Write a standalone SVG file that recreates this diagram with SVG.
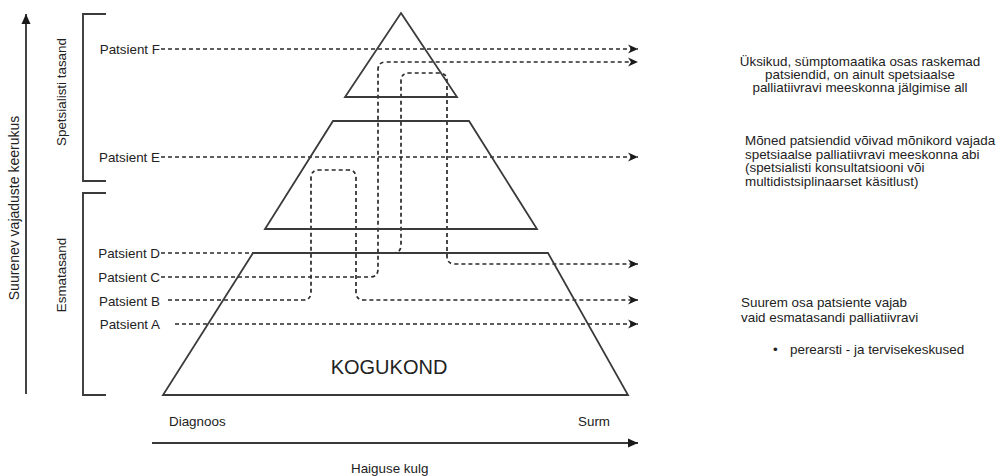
<svg xmlns="http://www.w3.org/2000/svg" width="1000" height="476" viewBox="0 0 1000 476">
  <style>
    text { font-family: "Liberation Sans", Arial, Helvetica, sans-serif; font-size: 13.4px; fill: #222; }
    .shape { fill: none; stroke: #3a3a3a; stroke-width: 1.8; stroke-linejoin: miter; }
    .axis { fill: none; stroke: #3a3a3a; stroke-width: 1.9; }
    .path { fill: none; stroke: #2a2a2a; stroke-width: 1.7; stroke-dasharray: 4 3; }
    .lbl { text-anchor: end; }
  </style>
  <defs>
    <marker id="chev" markerUnits="userSpaceOnUse" markerWidth="12" markerHeight="10" refX="10" refY="5" orient="auto">
      <path d="M0,0.5 L10,5 L0,9.5 L3,5 Z" fill="#1a1a1a"/>
    </marker>
    <marker id="tri" markerUnits="userSpaceOnUse" markerWidth="12" markerHeight="10" refX="10" refY="5" orient="auto">
      <path d="M0,0.5 L10,5 L0,9.5 Z" fill="#1a1a1a"/>
    </marker>
  </defs>

  <!-- axes -->
  <g id="axis-complexity">
    <line class="axis" x1="26" y1="394" x2="26" y2="14" marker-end="url(#tri)"/>
    <text transform="translate(19,208) rotate(-90)" text-anchor="middle" style="font-size:14px">Suurenev vajaduste keerukus</text>
  </g>
  <g id="axis-course">
    <line class="axis" x1="152" y1="443" x2="638" y2="443" marker-end="url(#tri)"/>
    <text x="351" y="473">Haiguse kulg</text>
    <text x="169" y="426">Diagnoos</text>
    <text x="578" y="426">Surm</text>
  </g>

  <!-- level brackets -->
  <g id="level-specialist">
    <path class="axis" d="M106,14 H83 V181 H106"/>
    <text transform="translate(66,92) rotate(-90)" text-anchor="middle">Spetsialisti tasand</text>
  </g>
  <g id="level-primary">
    <path class="axis" d="M106,193 H83 V395 H106"/>
    <text transform="translate(66,275) rotate(-90)" text-anchor="middle">Esmatasand</text>
  </g>

  <!-- patient trajectories -->
  <g id="connectors">
    <path class="path" d="M161,49 H638" marker-end="url(#chev)"/>
    <path class="path" d="M161,157 H638" marker-end="url(#chev)"/>
    <path class="path" d="M161,253 H393 Q401,253 401,245 V81 Q401,73 409,73 H439 Q447,73 447,81 V256 Q447,264 455,264 H638" marker-end="url(#chev)"/>
    <path class="path" d="M161,277 H370 Q378,277 378,269 V70 Q378,62 386,62 H638" marker-end="url(#chev)"/>
    <path class="path" d="M168,300 H303 Q311,300 311,292 V178 Q311,170 319,170 H348 Q356,170 356,178 V292 Q356,300 364,300 H638" marker-end="url(#chev)"/>
    <path class="path" d="M175,324 H638" marker-end="url(#chev)"/>
  </g>

  <!-- care pyramid -->
  <g id="tier-top">
    <polygon class="shape" points="401,13 457,97 345,97"/>
  </g>
  <g id="tier-middle">
    <polygon class="shape" points="333,121 469,121 537,229 265,229"/>
  </g>
  <g id="tier-community">
    <polygon class="shape" points="253,253 548,253 628,395 163,395"/>
    <text x="389" y="374" text-anchor="middle" style="font-size:20px">KOGUKOND</text>
  </g>

  <!-- patient labels -->
  <g id="patient-f"><text class="lbl" x="160" y="54">Patsient F</text></g>
  <g id="patient-e"><text class="lbl" x="160" y="162">Patsient E</text></g>
  <g id="patient-d"><text class="lbl" x="160" y="258">Patsient D</text></g>
  <g id="patient-c"><text class="lbl" x="160" y="282">Patsient C</text></g>
  <g id="patient-b"><text class="lbl" x="160" y="306">Patsient B</text></g>
  <g id="patient-a"><text class="lbl" x="160" y="329">Patsient A</text></g>

  <!-- explanations -->
  <g id="note-specialist" text-anchor="middle">
    <text x="860" y="66">Üksikud, sümptomaatika osas raskemad</text>
    <text x="860" y="79">patsiendid, on ainult spetsiaalse</text>
    <text x="860" y="92">palliatiivravi meeskonna jälgimise all</text>
  </g>
  <g id="note-occasional">
    <text x="745" y="145">Mõned patsiendid võivad mõnikord vajada</text>
    <text x="745" y="158.5">spetsiaalse palliatiivravi meeskonna abi</text>
    <text x="745" y="172">(spetsialisti konsultatsiooni või</text>
    <text x="745" y="185.5">multidistsiplinaarset käsitlust)</text>
  </g>
  <g id="note-primary">
    <text x="741" y="307">Suurem osa patsiente vajab</text>
    <text x="741" y="322">vaid esmatasandi palliatiivravi</text>
    <text x="773" y="354">•</text>
    <text x="790" y="354">perearsti - ja tervisekeskused</text>
  </g>
</svg>
